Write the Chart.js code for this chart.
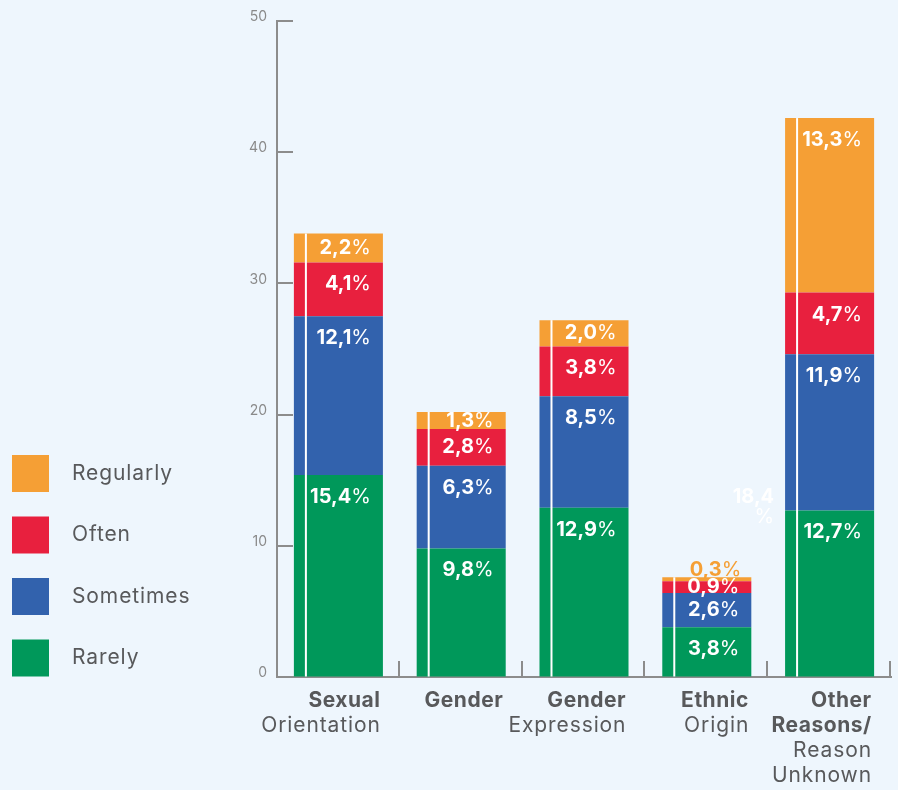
<!DOCTYPE html>
<html>
<head>
<meta charset="utf-8">
<script src="https://cdn.jsdelivr.net/npm/chart.js@4.4.1/dist/chart.umd.min.js"></script>
<style>
  html, body { margin: 0; padding: 0; background: #eef6fd; }
  canvas { display: block; }
</style>
</head>
<body>
<canvas id="freqChart" width="898" height="790"></canvas>
<script>
// categories: each entry is the lines of the axis label, the first boldLines[i] are bold
const categories = [
    ['Sexual', 'Orientation'],
    ['Gender'],
    ['Gender', 'Expression'],
    ['Ethnic', 'Origin'],
    ['Other', 'Reasons/', 'Reason', 'Unknown']
];
const boldLines = [1, 1, 1, 1, 2];

// percentages per frequency, stacked bottom to top
const rarely    = [15.4, 9.8, 12.9, 3.8, 12.7];
const sometimes = [12.1, 6.3, 8.5, 2.6, 11.9];
const often     = [4.1, 2.8, 3.8, 0.9, 4.7];
const regularly = [2.2, 1.3, 2.0, 0.3, 13.3];

const seriesNames  = ['Rarely', 'Sometimes', 'Often', 'Regularly'];
const seriesColors = ['#00985a', '#3262ad', '#e8203e', '#f59f35'];

const yMax = 50;
const yStep = 10;

// loose text box sitting next to the last bar
const strayNote = ['18,4', '%'];

const FONT = 'Inter, "Open Sans", sans-serif';
const AXIS = '#8c8c8c';
const TEXT = '#58595b';

function setFont(ctx, weight, size, spacing) {
    ctx.font = `${weight} ${size}px ${FONT}`;
    ctx.letterSpacing = spacing + 'px';
}

function drawValue(ctx, value, right, y, color) {
    const num = value.toFixed(1).replace('.', ',');
    setFont(ctx, 700, 20, 0);
    const w1 = ctx.measureText(num).width;
    setFont(ctx, 400, 20, 0);
    const w2 = ctx.measureText('%').width;
    const x0 = right - w1 - w2;
    ctx.fillStyle = color;
    ctx.textAlign = 'left';
    ctx.textBaseline = 'middle';
    setFont(ctx, 700, 20, 0);
    ctx.fillText(num, x0, y);
    setFont(ctx, 400, 20, 0);
    ctx.fillText('%', x0 + w1, y);
}

const decorPlugin = {
    id: 'decor',
    afterDatasetsDraw(chart) {
        const ctx = chart.ctx;
        const area = chart.chartArea;
        const xs = chart.scales.x;
        const ys = chart.scales.y;
        const n = categories.length;
        const metas = chart.data.datasets.map((d, i) => chart.getDatasetMeta(i));
        ctx.save();

        // white stripe near the left edge of every bar
        for (let i = 0; i < n; i++) {
            const bottom = metas[0].data[i];
            const top = metas[metas.length - 1].data[i];
            const left = bottom.x - bottom.width / 2;
            ctx.fillStyle = '#ffffff';
            ctx.fillRect(left + 11, top.y, 2, bottom.base - top.y);
        }

        // value labels inside the segments
        metas.forEach((meta, d) => {
            const values = chart.data.datasets[d].data;
            meta.data.forEach((bar, i) => {
                const h = bar.base - bar.y;
                const right = bar.x + bar.width / 2 - 12;
                if (h < 6) {
                    drawValue(ctx, values[i], right + 2, bar.y - 7, seriesColors[d]);
                } else {
                    drawValue(ctx, values[i], right, bar.y + Math.min(22, h / 2), '#ffffff');
                }
            });
        });

        // stray note left of the last bar
        const last = metas[0].data[n - 1];
        const noteRight = last.x - last.width / 2 - 11;
        const noteY = ys.getPixelForValue(13.7);
        ctx.fillStyle = '#ffffff';
        ctx.textAlign = 'right';
        ctx.textBaseline = 'middle';
        setFont(ctx, 700, 20, 0);
        ctx.fillText(strayNote[0], noteRight, noteY);
        setFont(ctx, 400, 20, 0);
        ctx.fillText(strayNote[1], noteRight, noteY + 20);

        // inward ticks on the y axis
        ctx.strokeStyle = AXIS;
        ctx.lineWidth = 2;
        ys.ticks.forEach(t => {
            const y = Math.round(ys.getPixelForValue(t.value));
            ctx.beginPath();
            ctx.moveTo(area.left, y);
            ctx.lineTo(area.left + 16, y);
            ctx.stroke();
        });

        // upward ticks between categories
        const step = xs.width / n;
        for (let i = 1; i <= n; i++) {
            const x = Math.round(area.left + step * i) - 1;
            ctx.beginPath();
            ctx.moveTo(x, area.bottom);
            ctx.lineTo(x, area.bottom - 16);
            ctx.stroke();
        }

        // category labels, right aligned under the bars
        // (letter spacing also trails the last glyph, so push right by that much)
        ctx.textAlign = 'right';
        ctx.textBaseline = 'middle';
        ctx.fillStyle = TEXT;
        categories.forEach((lines, i) => {
            const bar = metas[0].data[i];
            const right = bar.x + bar.width / 2 - 3;
            lines.forEach((line, k) => {
                const sp = k < boldLines[i] ? 0.5 : 0.9;
                setFont(ctx, k < boldLines[i] ? 700 : 400, 21, sp);
                ctx.fillText(line, right + sp, area.bottom + 24 + k * 25);
            });
        });

        // legend, top entry is the top of the stack
        const order = seriesNames.map((s, i) => i).reverse();
        order.forEach((d, k) => {
            const top = 455 + k * 61.5;
            ctx.fillStyle = seriesColors[d];
            ctx.fillRect(12, top, 37, 37);
            ctx.fillStyle = TEXT;
            ctx.textAlign = 'left';
            setFont(ctx, 400, 21, 0.9);
            ctx.fillText(seriesNames[d], 72, top + 18.5);
        });

        ctx.restore();
    }
};

const series = [rarely, sometimes, often, regularly];

new Chart(document.getElementById('freqChart'), {
    type: 'bar',
    data: {
        labels: categories,
        datasets: series.map((vals, i) => ({
            label: seriesNames[i],
            data: vals,
            backgroundColor: seriesColors[i],
            borderWidth: 0,
            barPercentage: 0.725,
            categoryPercentage: 1
        }))
    },
    options: {
        responsive: false,
        animation: false,
        layout: { padding: { left: 237, right: 7, top: 21, bottom: 0 } },
        plugins: {
            legend: { display: false },
            tooltip: { enabled: false }
        },
        scales: {
            x: {
                stacked: true,
                ticks: { display: false },
                grid: { display: false },
                border: { color: AXIS, width: 2 },
                afterFit: s => { s.height = 113; }
            },
            y: {
                stacked: true,
                min: 0,
                max: yMax,
                ticks: {
                    stepSize: yStep,
                    color: '#8a8a8a',
                    font: { family: FONT, size: 14 },
                    padding: 10,
                    labelOffset: -4
                },
                grid: { drawOnChartArea: false, drawTicks: false },
                border: { color: AXIS, width: 2 },
                afterFit: s => { s.width = 40; }
            }
        }
    },
    plugins: [decorPlugin]
});
</script>
</body>
</html>
